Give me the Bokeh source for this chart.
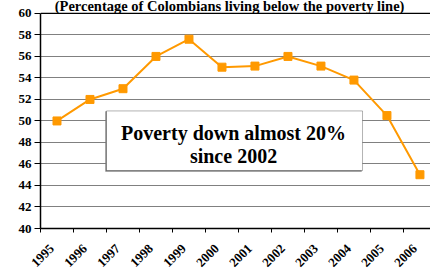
import math
from bokeh.plotting import figure
from bokeh.models import FixedTicker, Label, BoxAnnotation, Span, Range1d, ColumnDataSource
from bokeh.embed import file_html
from bokeh.resources import INLINE

years = ["1995", "1996", "1997", "1998", "1999", "2000", "2001", "2002", "2003", "2004", "2005", "2006"]
poverty = [50.0, 52.0, 53.0, 56.0, 57.6, 55.0, 55.1, 56.0, 55.1, 53.8, 50.5, 45.0]
y_ticks = [40, 42, 44, 46, 48, 50, 52, 54, 56, 58, 60]
title_text = "(Percentage of Colombians living below the poverty line)"
note_lines = ["Poverty down almost 20%", "since 2002"]

FONT = "Liberation Serif"

xs = [i + 0.5 for i in range(len(years))]
label_pos = [round(x - 0.15, 2) for x in xs]
src = ColumnDataSource(dict(x=xs, y=poverty))

# frame spans the full top of the canvas so the (cut-off) title can show above the 60 line
p = figure(width=430, height=273, output_backend="svg", toolbar_location=None,
           x_range=Range1d(0, 11.82), y_range=Range1d(40, 61.2),
           min_border_left=40, min_border_right=0, min_border_top=0, min_border_bottom=44)
p.styles = {"position": "absolute", "top": "0px", "left": "0px"}
p.outline_line_color = None
p.background_fill_color = "white"
p.border_fill_color = "white"

# grid
p.xgrid.grid_line_color = None
p.ygrid.ticker = FixedTicker(ticks=y_ticks)
p.ygrid.grid_line_color = "#808080"
p.ygrid.grid_line_width = 1

# top border line of the plot area
p.add_layout(Span(location=60, dimension="width", line_color="black", line_width=1.2))

# y axis
p.yaxis.ticker = FixedTicker(ticks=y_ticks)
p.yaxis.bounds = (40, 60)
p.yaxis.axis_line_color = "black"
p.yaxis.axis_line_width = 1.5
p.yaxis.major_tick_out = 6
p.yaxis.major_tick_in = 0
p.yaxis.minor_tick_line_color = None
p.yaxis.major_label_text_font = FONT
p.yaxis.major_label_text_font_style = "bold"
p.yaxis.major_label_text_font_size = "13px"
p.yaxis.major_label_text_color = "black"
p.yaxis.major_label_standoff = 3

# x axis: labels near category centers, tick marks at boundaries (minor ticks)
p.xaxis.ticker = FixedTicker(ticks=label_pos, minor_ticks=list(range(len(years) + 1)))
p.xaxis.major_label_overrides = {x: y for x, y in zip(label_pos, years)}
p.xaxis.major_tick_line_color = None
p.xaxis.minor_tick_out = 4
p.xaxis.minor_tick_in = 0
p.xaxis.minor_tick_line_color = "black"
p.xaxis.axis_line_color = "black"
p.xaxis.axis_line_width = 1.5
p.xaxis.major_label_orientation = math.pi / 4
p.xaxis.major_label_text_font = FONT
p.xaxis.major_label_text_font_style = "bold"
p.xaxis.major_label_text_font_size = "13px"
p.xaxis.major_label_text_color = "black"
p.xaxis.major_label_standoff = 12

# data
p.line("x", "y", source=src, line_color="#FF9900", line_width=2)
p.scatter("x", "y", source=src, marker="square", size=8, fill_color="#FF9900", line_color="#FF9900")

# annotation box with shadow
p.add_layout(BoxAnnotation(left=1.97, right=9.73, top=50.88, bottom=45.30,
                           fill_color="#777777", fill_alpha=1, line_color="#777777", line_width=1))
p.add_layout(BoxAnnotation(left=2.0, right=9.76, top=50.93, bottom=45.39,
                           fill_color="white", fill_alpha=1, line_color="black", line_width=1))
p.add_layout(Label(x=5.85, y=48.9, text=note_lines[0], text_align="center", text_baseline="alphabetic",
                   text_font=FONT, text_font_style="bold", text_font_size="20px", text_color="black"))
p.add_layout(Label(x=5.85, y=46.7, text=note_lines[1], text_align="center", text_baseline="alphabetic",
                   text_font=FONT, text_font_style="bold", text_font_size="20px", text_color="black"))

# title (partly cut at the top, as in the reference)
p.add_layout(Label(x=5.73, y=60.68, text=title_text, text_align="center", text_baseline="alphabetic",
                   text_font=FONT, text_font_style="bold", text_font_size="14.5px", text_color="black"))

open("out.html", "w").write(file_html(p, INLINE))
